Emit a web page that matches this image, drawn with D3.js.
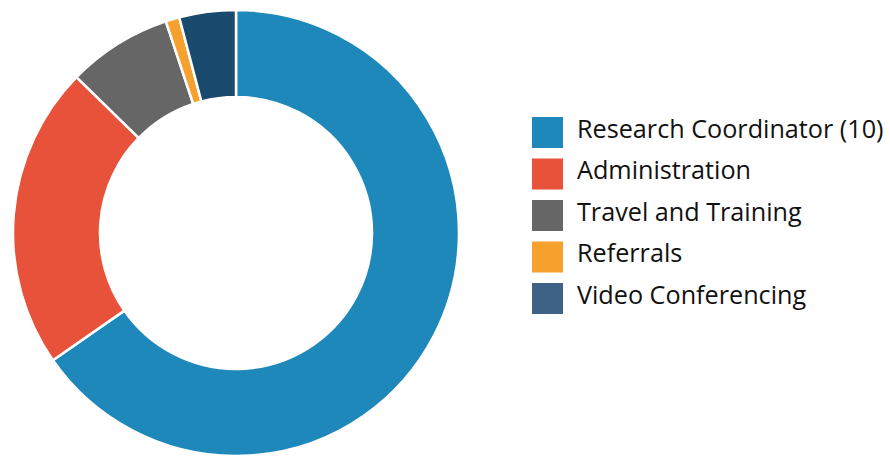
<!DOCTYPE html>
<html>
<head>
<meta charset="utf-8">
<script src="https://cdn.jsdelivr.net/npm/d3@7"></script>
<style>
  html, body { margin: 0; padding: 0; background: #fff; }
  svg { display: block; }
</style>
</head>
<body>
<svg id="chart" width="890" height="456"></svg>
<script>
// Budget share by category (percent)
const categories = ["Research Coordinator (10)", "Administration", "Travel and Training", "Referrals", "Video Conferencing"];
const values = [65.4, 22.0, 7.6, 1.0, 4.1];
const sliceColors = ["#1f88bb", "#e8523b", "#666666", "#f6a12d", "#1b4a6f"];
const swatchColors = ["#1f88bb", "#e8523b", "#666666", "#f6a12d", "#3e6286"];

const svg = d3.select("#chart");
const cx = 236, cy = 233, outerR = 223, innerR = 136;

const pie = d3.pie().sort(null).value(d => d.value);
const arc = d3.arc().innerRadius(innerR).outerRadius(outerR);
const data = categories.map((c, i) => ({ name: c, value: values[i], i }));

svg.append("g")
  .attr("transform", `translate(${cx},${cy})`)
  .selectAll("path")
  .data(pie(data))
  .join("path")
  .attr("d", arc)
  .attr("fill", d => sliceColors[d.data.i])
  .attr("stroke", "#fff")
  .attr("stroke-width", 2.5)
  .attr("stroke-linejoin", "miter");

const legend = svg.append("g").attr("transform", "translate(532,117)");
const row = legend.selectAll("g")
  .data(data)
  .join("g")
  .attr("transform", (d, i) => `translate(0,${i * 41.5})`);

row.append("rect")
  .attr("width", 31).attr("height", 31)
  .attr("fill", d => swatchColors[d.i]);

row.append("text")
  .attr("x", 45).attr("y", 20.5)
  .attr("font-family", "'Open Sans', sans-serif")
  .attr("font-size", 25.2)
  .attr("fill", "#111")
  .text(d => d.name);
</script>
</body>
</html>
